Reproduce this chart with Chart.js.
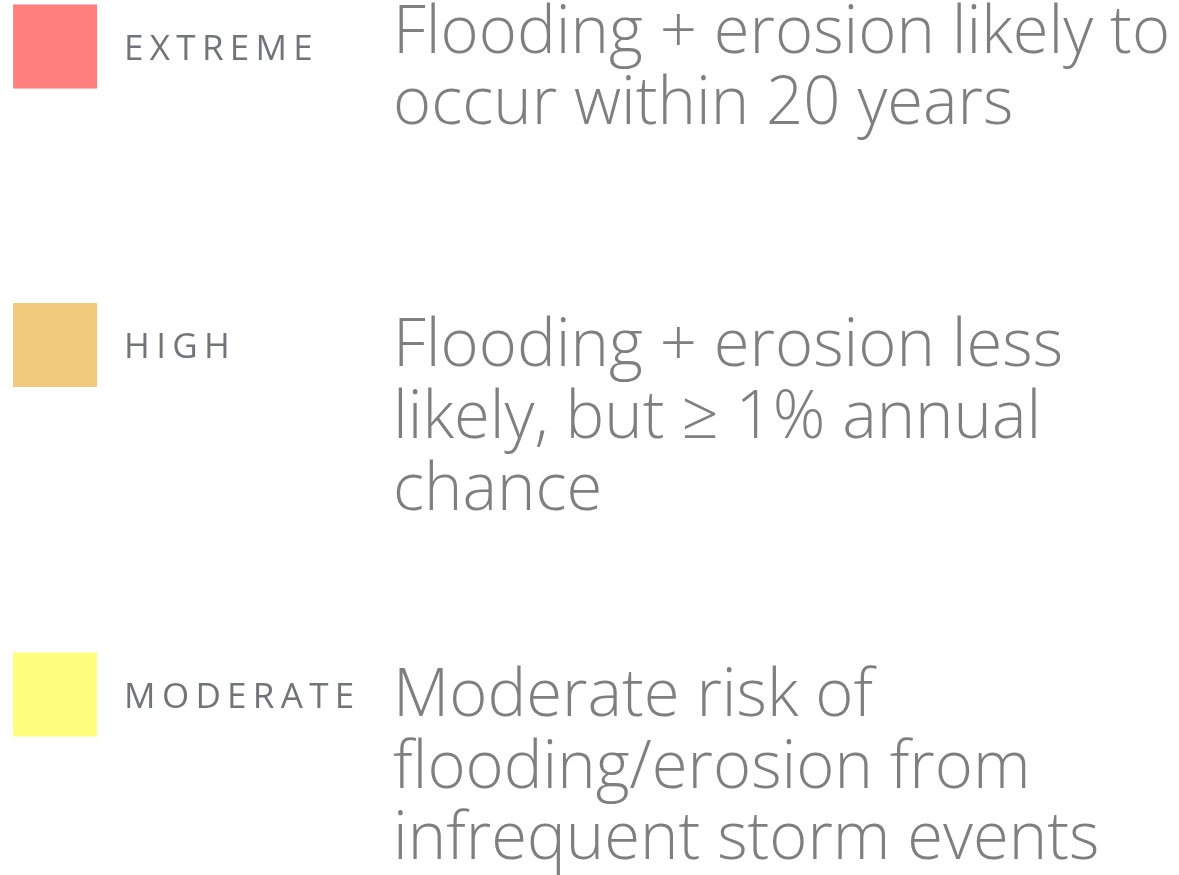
<!DOCTYPE html>
<html><head><meta charset="utf-8">
<script src="https://cdn.jsdelivr.net/npm/chart.js@4"></script>
<style>html,body{margin:0;padding:0;background:#fff;overflow:hidden}#wrap{width:1179px;height:875px;position:relative}</style>
</head><body><div id="wrap"><canvas id="c"></canvas></div>
<script>
// ---- data ----
const riskLevels = ['EXTREME', 'HIGH', 'MODERATE'];
const riskRank = [0, 1, 2];
const riskColors = ['#FF7F7F', '#F2CA7E', '#FFFF7F'];
const riskDescriptions = [
  ['Flooding + erosion likely to', 'occur within 20 years'],
  ['Flooding + erosion less', 'likely, but \u2265 1% annual', 'chance'],
  ['Moderate risk of', 'flooding/erosion from', 'infrequent storm events']
];

// ---- layout / style ----
const DESC_COLOR = '#7F7F7F';
const LABEL_COLOR = '#717478';
const ROW_PX = 349.5;      // pixels per rank step (description block centres)
const LINE_H = 71.8;       // description line height
const CAP_H = 48;          // description cap height

// swatch offset (px) from the centre of its description block, depends on line count
function swatchShiftPx(i) {
  const n = riskDescriptions[i].length;
  return -(n - 1) * 51 + 33;
}
const rowY = riskRank.map((r, i) => r + swatchShiftPx(i) / ROW_PX);

function drawSpaced(ctx, text, x, y, spacing) {
  let cx = x;
  for (const ch of text) {
    ctx.fillText(ch, cx, y);
    cx += ctx.measureText(ch).width + spacing;
  }
}

const textPlugin = {
  id: 'riskText',
  afterDatasetsDraw(chart) {
    const ctx = chart.ctx;
    const meta = chart.getDatasetMeta(0);
    const side = chart.data.datasets[0].pointRadius * Math.SQRT1_2 * 2;
    ctx.save();
    ctx.textAlign = 'left';
    ctx.textBaseline = 'alphabetic';
    const descSize = 67;
    const descFont = '300 ' + descSize + 'px "Open Sans", "Noto Sans", sans-serif';
    ctx.font = descFont;
    const refW = ctx.measureText(riskDescriptions[0][0]).width;
    const sx = 777 / refW;
    meta.data.forEach((pt, i) => {
      const cx = pt.x, cy = pt.y;
      const labSize = 35;
      ctx.font = '400 ' + labSize + 'px "Open Sans", "Noto Sans", sans-serif';
      ctx.fillStyle = LABEL_COLOR;
      drawSpaced(ctx, riskLevels[i], cx + side / 2 + 27, cy + 13, labSize * 0.18);
      ctx.font = descFont;
      ctx.fillStyle = DESC_COLOR;
      const descX = cx + 338;
      const lines = riskDescriptions[i];
      const blockC = cy - swatchShiftPx(i);
      const firstBase = blockC - (lines.length - 1) * LINE_H / 2 + CAP_H / 2;
      lines.forEach((line, j) => {
        ctx.save();
        ctx.translate(descX, firstBase + j * LINE_H);
        ctx.scale(sx, 1);
        ctx.fillText(line, 0, 0);
        ctx.restore();
      });
    });
    ctx.restore();
  }
};

new Chart(document.getElementById('c'), {
  type: 'scatter',
  data: {
    labels: riskLevels,
    datasets: [{
      data: rowY.map(y => ({ x: 0, y: y })),
      pointStyle: 'rect',
      pointRadius: 59.4,
      pointHoverRadius: 59.4,
      backgroundColor: riskColors,
      borderWidth: 0,
      clip: false
    }]
  },
  options: {
    responsive: true,
    maintainAspectRatio: false,
    animation: false,
    events: [],
    layout: { padding: 0, autoPadding: false },
    plugins: { legend: { display: false }, tooltip: { enabled: false } },
    scales: {
      x: { type: 'linear', display: false, min: -1, max: 20.4 },
      y: { type: 'linear', display: false, reverse: true, min: -64.5 / ROW_PX, max: (875 - 64.5) / ROW_PX }
    }
  },
  plugins: [textPlugin]
});
</script>
</body></html>
